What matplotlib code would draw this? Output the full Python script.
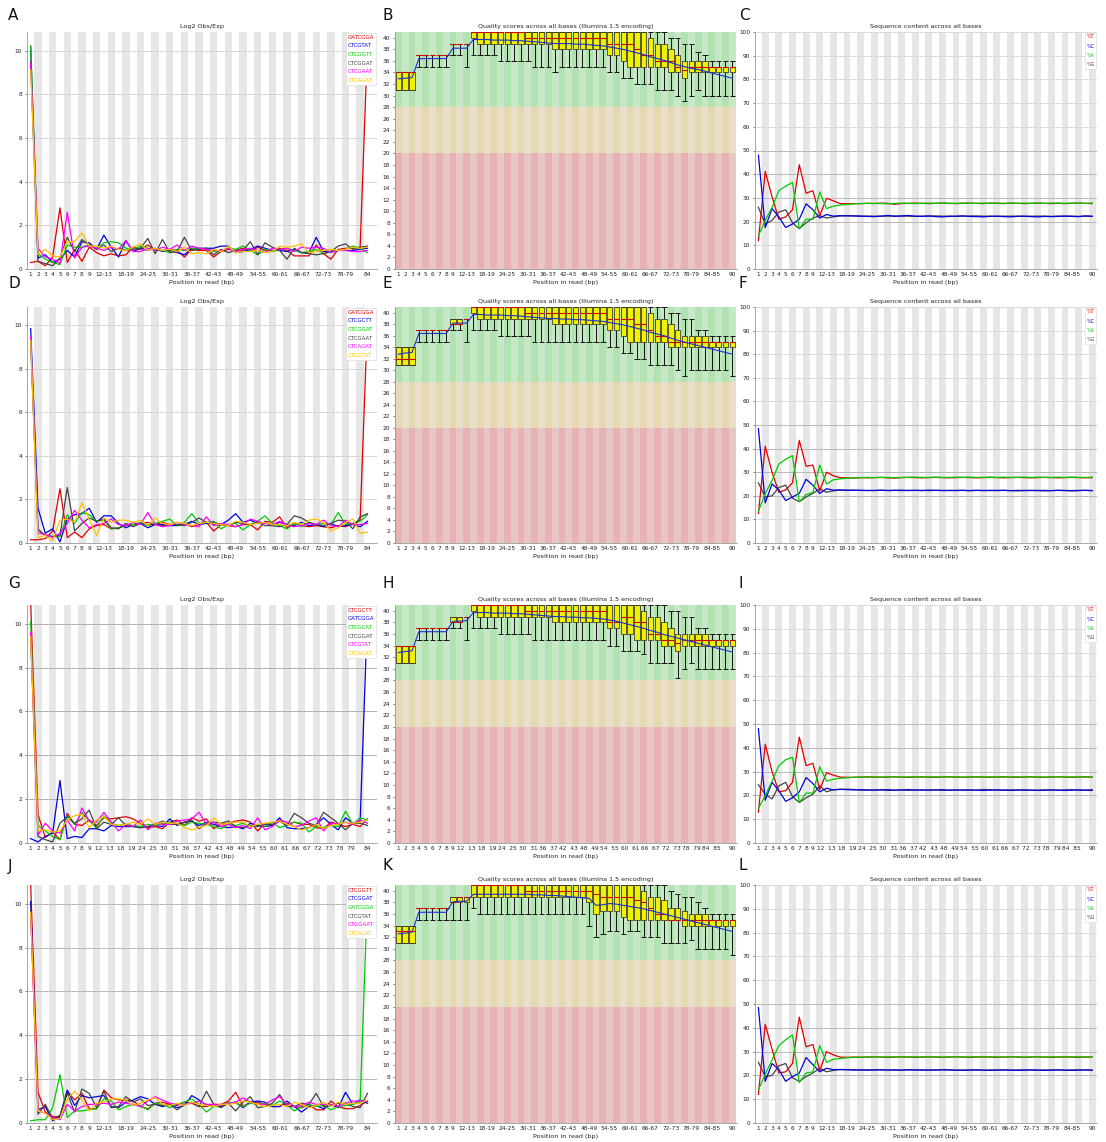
import numpy as np
import matplotlib.pyplot as plt

plt.rcParams['font.family'] = ['DejaVu Sans']

W, H = 1106, 1142

# ---------------------------------------------------------------- categories
KMER_POS = [str(i) for i in range(1, 10)] + [f'{i}-{i + 1}' for i in range(10, 84, 2)] + ['84']
KMER_TICKS = ['1', '2', '3', '4', '5', '6', '7', '8', '9', '12-13', '18-19', '24-25', '30-31',
              '36-37', '42-43', '48-49', '54-55', '60-61', '66-67', '72-73', '78-79', '84']
QUAL_POS = [str(i) for i in range(1, 10)] + [f'{i}-{i + 1}' for i in range(10, 90, 2)] + ['90']
QUAL_TICKS = ['1', '2', '3', '4', '5', '6', '7', '8', '9', '12-13', '18-19', '24-25', '30-31',
              '36-37', '42-43', '48-49', '54-55', '60-61', '66-67', '72-73', '78-79', '84-85', '90']

KMER_COLORS = ['#e00000', '#0000e0', '#00cc00', '#444444', '#ff00ff', '#ffc000']

# ---------------------------------------------------------------- kmer data (Log2 Obs/Exp)
a_names = ['GATCGGA', 'CTCGTAT', 'CTCGGTT', 'CTCGGAT', 'CTCGAAT', 'CTCAGAT']
a_red = [0.3, 0.35, 0.15, 0.55, 2.8, 0.3, 0.9, 0.35, 1.0, 0.75, 0.6, 0.7, 0.6, 0.65, 1.0, 0.9, 1.1, 0.85,
         0.85, 0.9, 0.85, 0.55, 0.9, 0.85, 0.85, 0.55, 0.8, 0.9, 0.85, 0.95, 0.8, 1.0, 0.85, 0.8, 0.95,
         0.85, 0.6, 0.6, 0.6, 1.1, 0.7, 0.45, 0.9, 0.95, 0.95, 1.0, 10.3]
a_blue = [10.2, 0.5, 0.65, 0.3, 0.45, 0.85, 0.55, 1.25, 1.2, 0.9, 1.55, 1.0, 0.55, 1.3, 0.8, 0.95, 0.85,
          0.95, 0.8, 0.85, 0.75, 0.65, 0.95, 0.95, 0.95, 0.95, 1.05, 1.05, 0.75, 0.8, 0.9, 1.05, 0.95,
          0.85, 0.85, 0.8, 0.9, 0.75, 0.75, 1.45, 0.8, 0.8, 0.85, 0.85, 0.85, 0.9, 0.95]
a_green = [10.2, 0.7, 0.45, 0.3, 0.2, 1.1, 1.0, 1.0, 1.1, 0.95, 1.2, 1.25, 1.2, 0.95, 0.9, 1.05, 0.95, 0.9,
           0.85, 0.75, 0.9, 0.85, 0.95, 0.9, 0.95, 0.8, 0.85, 0.95, 0.9, 1.05, 0.85, 0.65, 0.9, 0.8, 0.9,
           0.95, 0.85, 0.75, 0.8, 0.9, 0.7, 0.8, 0.85, 0.9, 1.05, 0.95, 0.75]
a_gray = [9.5, 0.35, 0.25, 0.15, 0.5, 1.45, 0.8, 1.35, 1.1, 0.9, 1.1, 0.8, 0.95, 0.85, 0.9, 0.95, 1.4, 0.7,
          1.35, 0.75, 0.8, 1.45, 0.85, 0.9, 0.95, 0.65, 0.9, 0.75, 0.85, 0.85, 1.25, 0.65, 1.2, 1.0, 0.85,
          0.45, 0.95, 0.75, 0.7, 0.65, 0.7, 0.8, 1.05, 1.15, 0.9, 1.0, 1.05]
a_magenta = [9.4, 0.95, 0.55, 0.45, 0.25, 2.6, 0.5, 1.0, 1.05, 0.95, 0.85, 1.0, 0.9, 1.3, 0.8, 0.8, 0.95,
             0.85, 1.0, 0.9, 1.1, 0.85, 1.05, 0.95, 0.9, 0.85, 0.85, 0.95, 0.8, 0.9, 0.95, 0.85, 0.75,
             0.95, 0.9, 0.95, 0.8, 1.0, 0.95, 1.0, 0.95, 0.75, 0.85, 0.85, 0.8, 0.8, 0.85]
a_yellow = [9.1, 0.65, 0.9, 0.6, 0.55, 1.25, 1.25, 1.65, 1.05, 1.05, 0.95, 1.05, 0.9, 0.85, 1.0, 1.15, 0.85,
            0.95, 0.85, 0.9, 0.8, 1.0, 0.7, 0.75, 0.7, 0.9, 0.8, 1.05, 0.75, 0.8, 0.8, 0.85, 0.75, 0.8,
            1.05, 1.0, 1.05, 1.15, 0.75, 0.8, 0.85, 0.9, 0.85, 0.9, 1.0, 0.95, 1.0]

d_names = ['GATCGGA', 'CTCGCTT', 'CTCGGAT', 'CTCGAAT', 'CTCAGAT', 'CTCGTAT']
d_red = [0.15, 0.15, 0.2, 0.55, 2.5, 0.25, 0.5, 0.25, 0.65, 0.8, 0.85, 0.65, 0.7, 0.8, 0.85, 0.9, 0.95,
         0.85, 0.95, 0.85, 0.8, 0.9, 0.75, 0.85, 0.95, 0.55, 0.85, 0.8, 0.75, 0.85, 0.85, 0.6, 1.0, 0.95,
         1.2, 0.7, 0.9, 0.8, 0.75, 0.8, 0.75, 0.7, 0.8, 0.75, 0.9, 1.05, 10.3]
d_blue = [9.85, 1.6, 0.45, 0.65, 0.05, 1.1, 1.3, 1.35, 1.6, 0.95, 1.25, 1.25, 0.9, 0.7, 0.85, 0.9, 0.7,
          0.85, 0.85, 0.8, 0.8, 0.85, 1.0, 0.85, 0.9, 0.95, 0.85, 1.05, 1.35, 0.95, 1.05, 0.9, 0.95, 0.8,
          0.95, 0.85, 0.8, 0.95, 0.8, 0.85, 0.75, 0.9, 0.75, 0.8, 0.85, 0.75, 1.0]
d_green = [9.5, 0.65, 0.35, 0.3, 0.3, 1.3, 0.9, 1.4, 1.3, 1.0, 1.05, 0.65, 0.7, 0.85, 0.85, 0.95, 0.8, 0.9,
           1.0, 1.1, 0.8, 0.95, 1.35, 0.9, 0.95, 1.0, 0.65, 0.85, 0.9, 0.6, 0.85, 1.0, 1.25, 0.9, 0.8,
           0.65, 0.9, 0.75, 0.95, 0.85, 0.9, 0.85, 1.4, 0.85, 0.9, 1.0, 1.3]
d_gray = [9.3, 0.6, 0.35, 0.3, 0.35, 2.55, 0.55, 0.9, 1.15, 1.0, 1.1, 0.7, 0.65, 0.9, 0.75, 0.9, 0.85,
          0.85, 0.8, 0.85, 0.85, 0.8, 0.95, 1.15, 0.95, 0.85, 0.85, 0.8, 0.95, 0.9, 0.85, 0.95, 0.8, 0.8,
          0.75, 0.85, 1.25, 1.15, 0.95, 0.85, 0.8, 0.9, 1.05, 1.0, 0.65, 1.2, 1.35]
d_magenta = [9.5, 0.45, 0.4, 0.25, 0.45, 0.9, 1.5, 1.05, 0.7, 0.85, 0.9, 1.1, 0.85, 0.8, 0.95, 0.85, 1.4,
             0.85, 0.75, 0.8, 0.95, 0.85, 0.8, 0.75, 1.2, 0.8, 0.9, 0.85, 0.75, 0.85, 1.1, 1.0, 0.9, 0.85,
             1.0, 0.8, 0.75, 0.8, 0.9, 0.85, 1.05, 0.8, 0.75, 1.05, 0.85, 0.85, 0.9]
d_yellow = [9.3, 0.25, 0.35, 0.1, 1.05, 1.1, 0.95, 1.85, 1.1, 0.35, 1.15, 0.95, 1.05, 1.05, 0.95, 1.05, 0.8,
            1.15, 0.9, 0.85, 0.95, 0.9, 0.8, 0.9, 0.95, 0.9, 0.85, 0.8, 1.0, 0.95, 0.85, 0.9, 0.95, 0.85,
            0.85, 0.8, 0.95, 0.85, 1.05, 1.1, 0.95, 0.55, 0.7, 0.95, 1.1, 0.45, 0.5]

g_names = ['CTCGCTT', 'GATCGGA', 'CTCGCAT', 'CTCGGAT', 'CTCGTAT', 'CTCAGAT']
g_red = [11.0, 1.3, 0.25, 0.5, 0.15, 1.35, 0.85, 0.8, 1.05, 0.8, 1.15, 1.1, 1.15, 1.2, 1.1, 0.9, 0.7, 0.75,
         0.65, 0.95, 1.05, 0.8, 1.15, 1.0, 1.1, 0.65, 0.85, 0.9, 1.0, 1.05, 0.95, 0.55, 0.9, 0.8, 1.0,
         0.85, 0.95, 0.85, 0.85, 0.7, 0.65, 0.95, 0.85, 0.75, 0.85, 0.75, 1.1]
g_blue = [0.2, 0.05, 0.3, 0.45, 2.85, 0.2, 0.3, 0.25, 0.65, 0.65, 0.55, 0.8, 0.75, 0.75, 0.75, 0.7, 0.75,
          0.8, 0.75, 1.1, 0.8, 0.95, 1.0, 0.8, 0.95, 0.85, 0.75, 0.7, 0.75, 0.65, 0.9, 0.8, 0.75, 0.8,
          1.15, 0.7, 0.65, 0.65, 0.7, 0.85, 1.15, 0.85, 0.6, 1.15, 0.9, 1.0, 10.5]
g_green = [10.1, 0.8, 0.55, 0.3, 0.15, 1.25, 0.85, 1.4, 1.0, 0.7, 1.25, 0.9, 0.8, 0.85, 0.8, 0.75, 0.85,
           0.8, 0.9, 0.95, 0.9, 0.8, 0.95, 0.9, 0.85, 0.75, 0.65, 0.85, 0.8, 0.9, 0.75, 0.85, 0.75, 0.95,
           0.7, 0.8, 0.95, 0.9, 0.5, 0.75, 0.7, 0.8, 0.75, 1.45, 0.85, 1.15, 1.05]
g_gray = [9.4, 0.3, 0.15, 0.05, 0.9, 1.2, 0.9, 1.1, 1.5, 0.65, 0.95, 0.85, 1.15, 0.8, 0.75, 0.7, 0.75,
          0.85, 1.0, 0.85, 0.85, 0.95, 1.05, 0.65, 0.9, 0.95, 0.9, 1.0, 0.75, 0.7, 0.8, 0.75, 0.85, 0.85,
          1.0, 0.8, 1.35, 1.15, 0.9, 0.8, 1.4, 1.15, 0.9, 0.6, 0.9, 0.9, 0.8]
g_magenta = [9.6, 0.35, 0.9, 0.55, 0.45, 1.05, 0.55, 1.6, 1.0, 0.95, 1.4, 0.95, 0.55, 0.85, 0.75, 1.05,
             0.6, 0.9, 0.85, 0.85, 1.0, 1.05, 1.1, 1.4, 0.85, 0.95, 0.75, 0.85, 0.7, 0.8, 0.65, 1.15, 0.6,
             0.75, 1.05, 0.95, 0.75, 0.8, 1.0, 1.15, 0.55, 0.9, 0.85, 0.95, 0.85, 1.05, 0.9]
g_yellow = [9.4, 0.55, 0.6, 0.5, 0.55, 1.05, 1.25, 1.3, 0.7, 1.05, 1.2, 0.85, 0.8, 0.85, 0.95, 0.85, 1.1,
            0.85, 0.95, 0.9, 0.9, 0.7, 0.6, 0.7, 0.8, 1.15, 0.85, 0.9, 0.95, 0.95, 0.75, 0.85, 0.9, 0.95,
            1.0, 0.85, 0.75, 0.6, 0.7, 0.85, 0.65, 0.8, 0.85, 0.95, 0.9, 0.95, 1.05]

j_names = ['CTCGGTT', 'CTCGGAT', 'GATCGGA', 'CTCGTAT', 'CTGGAAT', 'CTCACAT']
j_red = [10.9, 1.4, 0.5, 0.3, 0.25, 1.45, 1.05, 1.35, 0.65, 0.65, 1.5, 1.15, 1.05, 1.05, 1.0, 0.75, 0.65,
         0.9, 0.95, 0.85, 0.8, 0.95, 0.9, 0.75, 0.75, 0.85, 0.85, 1.0, 1.4, 0.75, 0.95, 0.95, 0.85, 0.75,
         0.75, 0.9, 0.75, 0.7, 0.85, 0.6, 0.6, 1.0, 0.75, 0.65, 0.65, 0.8, 1.0]
j_blue = [10.1, 0.6, 0.75, 0.1, 0.3, 1.5, 0.8, 1.25, 1.15, 1.2, 1.25, 0.75, 0.7, 0.95, 1.05, 1.2, 1.1,
          0.85, 0.75, 0.85, 0.7, 0.8, 1.25, 1.05, 0.8, 0.85, 0.75, 0.9, 0.95, 0.7, 0.95, 1.0, 0.95, 0.75,
          0.75, 1.0, 0.75, 0.5, 0.75, 0.8, 0.65, 0.85, 0.7, 1.4, 0.85, 1.05, 0.9]
j_green = [0.1, 0.15, 0.15, 0.7, 2.2, 0.25, 0.55, 0.55, 0.6, 0.65, 1.1, 1.0, 0.6, 0.75, 0.85, 0.8, 0.6,
           0.9, 0.85, 0.7, 0.85, 0.95, 1.1, 0.85, 0.5, 0.75, 0.8, 0.95, 0.9, 0.75, 0.9, 0.85, 0.9, 0.8,
           1.0, 0.85, 0.55, 0.75, 0.85, 0.75, 0.8, 0.6, 0.75, 0.8, 0.85, 0.95, 10.4]
j_gray = [9.7, 0.4, 0.85, 0.2, 0.35, 1.35, 0.5, 1.55, 1.35, 0.7, 1.45, 0.7, 0.75, 1.2, 0.95, 1.1, 0.8,
          0.85, 0.8, 0.85, 0.6, 0.85, 0.95, 0.75, 1.45, 0.85, 0.7, 0.9, 0.55, 0.95, 1.2, 0.7, 0.75, 0.9,
          1.3, 0.75, 0.75, 0.9, 0.85, 1.35, 0.75, 0.8, 0.9, 0.9, 0.75, 0.7, 1.35]
j_magenta = [9.6, 0.55, 0.45, 0.25, 0.15, 0.85, 0.55, 0.75, 0.85, 0.85, 0.9, 0.85, 0.95, 0.9, 0.85, 0.75,
             1.0, 1.2, 1.05, 0.9, 0.85, 0.85, 0.9, 1.0, 0.85, 0.85, 0.8, 0.9, 0.95, 1.15, 0.95, 0.85,
             0.85, 1.05, 1.2, 0.85, 0.75, 0.8, 0.95, 0.85, 0.85, 0.85, 0.75, 0.9, 1.0, 1.0, 1.0]
j_yellow = [9.6, 0.55, 0.45, 0.15, 0.2, 1.1, 1.45, 1.05, 0.55, 0.9, 0.95, 1.1, 1.1, 1.05, 0.8, 0.9, 1.05,
            1.15, 0.85, 0.8, 0.9, 0.8, 0.95, 0.85, 0.8, 0.75, 0.85, 0.85, 0.9, 1.0, 0.95, 0.85, 0.75, 0.8,
            0.85, 0.75, 0.95, 0.85, 0.7, 0.8, 0.95, 0.75, 0.95, 0.85, 0.9, 0.9, 1.05]

# ---------------------------------------------------------------- quality data
b_lo = [31, 31, 31, 35, 35, 35, 35, 35, 37, 37, 35, 37, 37, 37, 37, 36, 36, 36, 36, 36, 35, 35, 35, 34, 35,
        35, 35, 35, 35, 35, 35, 34, 34, 33, 33, 32, 32, 32, 31, 31, 31, 30, 29, 30, 31, 30, 30, 30, 30, 30]
b_q1 = [31, 31, 31, 37, 37, 37, 37, 37, 39, 39, 39, 40, 39, 39, 39, 39, 39, 39, 39, 39, 39, 39, 39, 38, 38,
        38, 38, 38, 38, 38, 38, 37, 37, 36, 35, 35, 35, 35, 35, 35, 34, 34, 33, 34, 34, 34, 34, 34, 34, 34]
b_med = [34, 34, 34, 37, 37, 37, 37, 37, 39, 39, 39, 41, 41, 41, 41, 41, 41, 41, 41, 40, 40, 40, 40, 40, 40,
         40, 40, 40, 40, 40, 40, 39, 39, 39, 39, 38, 37, 37, 36, 36, 36, 35, 34.5, 35, 35, 35, 35, 35, 35, 35]
b_q3 = [34, 34, 34, 37, 37, 37, 37, 37, 39, 39, 39, 41, 41, 41, 41, 41, 41, 41, 41, 41, 41, 41, 41, 41, 41,
        41, 41, 41, 41, 41, 41, 41, 41, 41, 41, 41, 41, 40, 39, 39, 38, 37, 36, 36, 36, 36, 35, 35, 35, 35]
b_hi = [34, 34, 34, 37, 37, 37, 37, 37, 39, 39, 39, 41, 41, 41, 41, 41, 41, 41, 41, 41, 41, 41, 41, 41, 41,
        41, 41, 41, 41, 41, 41, 41, 41, 41, 41, 41, 41, 41, 41, 41, 40, 40, 39, 39, 37.5, 37, 36, 36, 36, 36]
b_mean = [32.9, 33.0, 33.1, 36.4, 36.4, 36.4, 36.4, 36.4, 38.2, 38.2, 38.2, 39.7, 39.7, 39.7, 39.6, 39.6,
          39.6, 39.5, 39.5, 39.4, 39.3, 39.2, 39.1, 39.0, 39.0, 39.0, 38.9, 38.9, 38.8, 38.7, 38.6, 38.4,
          38.2, 38.0, 37.7, 37.4, 37.1, 36.7, 36.4, 36.1, 35.7, 35.3, 35.0, 34.7, 34.5, 34.2, 33.9, 33.6,
          33.3, 33.0]

e_lo = [31, 31, 31, 35, 35, 35, 35, 35, 37, 37, 35, 37, 37, 37, 37, 36, 36, 36, 36, 36, 35, 35, 35, 35, 35,
        35, 35, 35, 35, 35, 35, 34, 34, 33, 33, 32, 32, 31, 31, 31, 31, 30, 29, 30, 30, 30, 30, 30, 30, 29]
e_q1 = [31, 31, 31, 37, 37, 37, 37, 37, 38, 38, 39, 40, 39, 39, 39, 39, 39, 39, 39, 39, 39, 39, 39, 38, 38,
        38, 38, 38, 38, 38, 38, 37, 37, 36, 35, 35, 35, 35, 35, 35, 34, 34, 34, 34, 34, 34, 34, 34, 34, 34]
e_med = [32, 32, 32, 37, 37, 37, 37, 37, 38, 38, 39, 41, 41, 41, 41, 41, 41, 41, 41, 40, 40, 40, 40, 40, 40,
         40, 40, 40, 40, 40, 40, 39, 39, 39, 39, 38, 38, 37, 36, 36, 35, 35, 35, 35, 35, 35, 35, 35, 35, 35]
e_q3 = [34, 34, 34, 37, 37, 37, 37, 37, 39, 39, 39, 41, 41, 41, 41, 41, 41, 41, 41, 41, 41, 41, 41, 41, 41,
        41, 41, 41, 41, 41, 41, 41, 41, 41, 41, 41, 41, 40, 39, 39, 38, 37, 36, 36, 36, 36, 35, 35, 35, 35]
e_hi = [34, 34, 34, 37, 37, 37, 37, 37, 39, 39, 39, 41, 41, 41, 41, 41, 41, 41, 41, 41, 41, 41, 41, 41, 41,
        41, 41, 41, 41, 41, 41, 41, 41, 41, 41, 41, 41, 41, 41, 41, 40, 40, 39, 39, 37, 37, 36, 36, 36, 36]
e_mean = [32.8, 33.0, 33.1, 36.4, 36.4, 36.4, 36.4, 36.4, 38.2, 38.2, 38.2, 39.7, 39.7, 39.6, 39.6, 39.6,
          39.5, 39.5, 39.4, 39.3, 39.2, 39.1, 39.0, 39.0, 38.9, 38.9, 38.8, 38.8, 38.7, 38.6, 38.5, 38.3,
          38.1, 37.9, 37.6, 37.3, 37.0, 36.6, 36.3, 36.0, 35.6, 35.2, 34.9, 34.6, 34.3, 34.0, 33.7, 33.4,
          33.1, 32.8]

h_lo = [31, 31, 31, 35, 35, 35, 35, 35, 37, 37, 35, 37, 37, 37, 37, 36, 36, 36, 36, 36, 35, 35, 35, 35, 35,
        35, 35, 35, 35, 35, 35, 34, 34, 33, 33, 33, 32.5, 31, 31, 31, 31, 28.5, 30, 31, 30, 30, 30, 30, 30, 30]
h_q1 = [31, 31, 31, 37, 37, 37, 37, 37, 38, 38, 39, 40, 39, 39, 39, 39, 39, 39, 39, 39, 39, 39, 39, 38, 38,
        38, 38, 38, 38, 38, 38, 37, 37, 36, 36, 35, 35, 35, 35, 34, 34, 33, 34, 34, 34, 34, 34, 34, 34, 34]
h_med = [34, 34, 34, 37, 37, 37, 37, 37, 38, 38, 39, 41, 41, 41, 41, 41, 41, 41, 41, 40, 40, 40, 40, 40, 40,
         40, 40, 40, 40, 40, 40, 38, 38, 39, 39, 38, 38, 36, 36, 35, 35, 34.5, 35, 35, 35, 35, 35, 35, 35, 35]
h_q3 = [34, 34, 34, 37, 37, 37, 37, 37, 39, 39, 39, 41, 41, 41, 41, 41, 41, 41, 41, 41, 41, 41, 41, 41, 41,
        41, 41, 41, 41, 41, 41, 41, 41, 41, 41, 41, 40, 39, 39, 38, 37, 36, 36, 36, 36, 36, 35, 35, 35, 35]
h_hi = [34, 34, 34, 37, 37, 37, 37, 37, 39, 39, 39, 41, 41, 41, 41, 41, 41, 41, 41, 41, 41, 41, 41, 41, 41,
        41, 41, 41, 41, 41, 41, 41, 41, 41, 41, 41, 41, 41, 41, 41, 40, 40, 39, 39, 37, 37, 36, 36, 36, 36]
h_mean = [32.8, 33.0, 33.1, 36.4, 36.4, 36.4, 36.4, 36.4, 38.2, 38.2, 38.3, 39.7, 39.7, 39.7, 39.6, 39.6,
          39.6, 39.5, 39.5, 39.4, 39.3, 39.2, 39.1, 39.0, 39.0, 38.9, 38.9, 38.8, 38.8, 38.7, 38.6, 38.4,
          38.2, 37.9, 37.6, 37.3, 37.0, 36.6, 36.3, 35.9, 35.6, 35.3, 35.0, 34.7, 34.4, 34.1, 33.8, 33.5,
          33.2, 32.9]

k_lo = [31, 31, 31, 35, 35, 35, 35, 35, 35, 35, 35, 37, 36, 36, 36, 36, 36, 36, 36, 36, 36, 36, 36, 36, 36,
        36, 36, 36, 34, 32, 32.5, 33, 33, 32.5, 33, 33, 32, 32, 32, 31, 31, 31, 31, 31.5, 30, 30, 30, 30, 30, 29]
k_q1 = [31, 31, 31, 37, 37, 37, 37, 37, 38, 38, 38, 39, 39, 39, 39, 39, 39, 39, 39, 39, 39, 39, 39, 39, 39,
        39, 39, 39, 38, 36, 36.5, 36.5, 36.5, 35.5, 35, 35, 35, 35, 35, 35, 35, 35, 34, 34, 34, 34, 34, 34, 34, 34]
k_med = [33, 33, 33, 37, 37, 37, 37, 37, 38, 39, 39, 41, 41, 41, 41, 41, 41, 41, 41, 40, 40, 40, 40, 40, 40,
         40, 40, 40, 40, 39.5, 39, 39, 39, 39, 39, 38.5, 38, 37, 36, 36, 35, 35, 35, 35, 35, 35, 35, 35, 35, 35]
k_q3 = [34, 34, 34, 37, 37, 37, 37, 37, 39, 39, 39, 41, 41, 41, 41, 41, 41, 41, 41, 41, 41, 41, 41, 41, 41,
        41, 41, 41, 41, 41, 41, 41, 41, 41, 41, 41, 40, 39, 39, 38.5, 37, 37, 36.5, 36, 36, 36, 35, 35, 35, 35]
k_hi = [34, 34, 34, 37, 37, 37, 37, 37, 39, 39, 39, 41, 41, 41, 41, 41, 41, 41, 41, 41, 41, 41, 41, 41, 41,
        41, 41, 41, 41, 41, 41, 41, 41, 41, 41, 41, 41, 41, 41, 41, 40, 39.5, 39, 39, 38, 37, 36, 36, 36, 36]
k_mean = [32.6, 32.7, 32.9, 36.3, 36.3, 36.3, 36.3, 36.3, 38.1, 38.2, 38.2, 39.4, 39.4, 39.4, 39.4, 39.4,
          39.4, 39.4, 39.4, 39.4, 39.3, 39.3, 39.2, 39.2, 39.1, 39.0, 38.9, 38.8, 38.7, 37.5, 37.6, 37.8,
          37.7, 37.5, 37.3, 37.1, 36.9, 36.6, 36.3, 36.0, 35.7, 35.4, 35.1, 34.8, 34.5, 34.2, 33.9, 33.6,
          33.3, 33.0]

# ---------------------------------------------------------------- sequence content data (%)
c_t = [12.0, 41.2, 30.5, 21.0, 22.0, 25.0, 44.0, 32.0, 33.0, 22.5, 29.8, 28.8, 27.6, 27.5, 27.6, 27.6, 27.7,
       27.6, 27.8, 27.7, 27.3, 27.6, 27.7, 27.8, 27.7, 27.6, 27.7, 27.8, 27.7, 27.6, 27.7, 27.8, 27.7, 27.6,
       27.8, 27.7, 27.6, 27.8, 27.7, 27.6, 27.7, 27.8, 27.7, 27.6, 27.7, 27.6, 27.7, 27.8, 27.7, 27.6]
c_c = [48.0, 17.5, 25.5, 22.0, 17.5, 19.0, 21.0, 27.5, 25.0, 21.5, 23.0, 22.3, 22.5, 22.4, 22.4, 22.3, 22.2,
       22.1, 22.3, 22.6, 22.2, 22.4, 22.6, 22.3, 22.2, 22.4, 22.1, 22.0, 22.2, 22.3, 22.4, 22.2, 22.1, 22.0,
       22.2, 22.3, 22.1, 22.0, 22.2, 22.3, 22.1, 22.0, 22.2, 22.1, 22.2, 22.3, 22.2, 22.1, 22.4, 22.2]
c_a = [14.0, 20.5, 26.0, 33.0, 35.0, 36.5, 17.0, 21.0, 21.0, 32.5, 25.5, 26.5, 27.0, 27.2, 27.5, 27.6, 27.7,
       27.7, 27.6, 27.5, 27.7, 27.8, 27.7, 27.6, 27.7, 27.8, 27.7, 27.8, 27.7, 27.7, 27.8, 27.7, 27.7, 27.8,
       27.7, 27.8, 27.7, 27.8, 27.7, 27.8, 27.7, 27.8, 27.7, 27.8, 27.8, 27.7, 27.8, 27.8, 27.7, 27.8]
c_g = [26.0, 19.0, 20.5, 24.0, 25.0, 19.5, 17.0, 19.5, 21.5, 22.5, 21.5, 22.0, 22.4, 22.5, 22.4, 22.3, 22.3,
       22.3, 22.3, 22.3, 22.4, 22.3, 22.3, 22.2, 22.3, 22.3, 22.4, 22.3, 22.3, 22.2, 22.3, 22.3, 22.4, 22.3,
       22.3, 22.2, 22.3, 22.3, 22.3, 22.2, 22.3, 22.3, 22.3, 22.2, 22.3, 22.3, 22.3, 22.2, 22.3, 22.3]

f_t = [12.5, 41.0, 30.0, 21.5, 22.5, 25.5, 43.5, 32.5, 33.0, 22.0, 30.0, 28.5, 27.7, 27.6, 27.5, 27.7, 27.6,
       27.7, 27.8, 27.6, 27.5, 27.7, 27.8, 27.7, 27.6, 27.7, 27.8, 27.7, 27.6, 27.7, 27.8, 27.7, 27.6, 27.7,
       27.8, 27.7, 27.6, 27.7, 27.8, 27.7, 27.6, 27.7, 27.8, 27.7, 27.6, 27.7, 27.8, 27.7, 27.6, 27.7]
f_c = [48.5, 17.0, 25.0, 22.5, 18.0, 19.5, 21.0, 27.0, 24.5, 21.0, 23.0, 22.4, 22.5, 22.3, 22.4, 22.3, 22.2,
       22.3, 22.4, 22.2, 22.3, 22.4, 22.2, 22.3, 22.2, 22.4, 22.3, 22.2, 22.3, 22.2, 22.3, 22.2, 22.3, 22.2,
       22.3, 22.2, 22.3, 22.2, 22.1, 22.2, 22.3, 22.2, 22.1, 22.2, 22.3, 22.2, 22.1, 22.2, 22.3, 22.2]
f_a = [13.5, 21.0, 26.5, 33.5, 35.5, 37.0, 17.5, 20.5, 21.5, 33.0, 25.0, 26.8, 27.2, 27.4, 27.6, 27.7, 27.8,
       27.7, 27.8, 27.8, 27.7, 27.8, 27.8, 27.9, 27.8, 27.8, 27.9, 27.8, 27.8, 27.9, 27.8, 27.9, 27.8, 27.8,
       27.9, 27.8, 27.9, 27.8, 27.8, 27.9, 27.8, 27.9, 27.8, 27.8, 27.9, 27.8, 27.9, 27.8, 27.8, 27.9]
f_g = [25.5, 19.5, 20.0, 23.5, 24.5, 19.0, 17.5, 19.5, 21.0, 23.0, 21.5, 22.1, 22.4, 22.4, 22.3, 22.3, 22.3,
       22.2, 22.3, 22.3, 22.3, 22.2, 22.3, 22.3, 22.3, 22.2, 22.3, 22.3, 22.2, 22.3, 22.3, 22.2, 22.3, 22.3,
       22.2, 22.3, 22.3, 22.2, 22.3, 22.3, 22.2, 22.3, 22.3, 22.2, 22.3, 22.3, 22.2, 22.3, 22.3, 22.2]

i_t = [13.0, 41.5, 30.0, 21.5, 22.0, 25.5, 44.5, 32.5, 33.5, 22.5, 29.5, 28.5, 27.7, 27.6, 27.6, 27.7, 27.8,
       27.7, 27.6, 27.7, 27.8, 27.7, 27.6, 27.7, 27.8, 27.7, 27.6, 27.7, 27.8, 27.7, 27.6, 27.7, 27.8, 27.7,
       27.6, 27.7, 27.8, 27.7, 27.6, 27.7, 27.8, 27.7, 27.6, 27.7, 27.8, 27.7, 27.6, 27.7, 27.8, 27.7]
i_c = [48.0, 18.0, 25.5, 22.0, 17.5, 19.0, 21.5, 27.5, 25.0, 21.5, 23.0, 22.3, 22.6, 22.4, 22.3, 22.4, 22.3,
       22.2, 22.3, 22.4, 22.2, 22.3, 22.4, 22.2, 22.3, 22.2, 22.3, 22.4, 22.2, 22.3, 22.2, 22.3, 22.2, 22.1,
       22.2, 22.3, 22.2, 22.1, 22.2, 22.3, 22.2, 22.1, 22.2, 22.3, 22.2, 22.1, 22.2, 22.3, 22.2, 22.1]
i_a = [14.5, 20.0, 26.0, 32.5, 35.0, 36.0, 17.0, 21.0, 21.0, 32.0, 26.0, 26.8, 27.2, 27.4, 27.6, 27.7, 27.7,
       27.8, 27.7, 27.8, 27.8, 27.7, 27.8, 27.8, 27.7, 27.8, 27.8, 27.7, 27.8, 27.8, 27.7, 27.8, 27.8, 27.7,
       27.8, 27.8, 27.7, 27.8, 27.8, 27.7, 27.8, 27.8, 27.7, 27.8, 27.8, 27.7, 27.8, 27.8, 27.7, 27.8]
i_g = [24.5, 20.5, 18.5, 24.0, 25.5, 19.5, 17.0, 19.0, 20.5, 24.0, 21.5, 22.4, 22.5, 22.6, 22.5, 22.2, 22.2,
       22.3, 22.4, 22.1, 22.2, 22.3, 22.1, 22.3, 22.2, 22.3, 22.3, 22.1, 22.2, 22.2, 22.3, 22.2, 22.2, 22.5,
       22.4, 22.2, 22.3, 22.3, 22.3, 22.2, 22.2, 22.2, 22.3, 22.2, 22.2, 22.3, 22.4, 22.2, 22.2, 22.4]

l_t = [12.0, 41.5, 31.0, 21.0, 21.5, 25.0, 44.5, 32.0, 33.0, 22.0, 30.0, 28.6, 27.7, 27.6, 27.7, 27.6, 27.7,
       27.8, 27.7, 27.6, 27.7, 27.8, 27.7, 27.6, 27.7, 27.8, 27.7, 27.6, 27.7, 27.8, 27.7, 27.6, 27.7, 27.8,
       27.7, 27.6, 27.7, 27.8, 27.7, 27.6, 27.7, 27.8, 27.7, 27.6, 27.7, 27.8, 27.7, 27.6, 27.7, 27.8]
l_c = [48.5, 17.5, 25.0, 22.5, 17.5, 19.5, 21.0, 27.5, 24.5, 21.5, 23.0, 22.4, 22.5, 22.4, 22.3, 22.3, 22.2,
       22.3, 22.4, 22.2, 22.3, 22.2, 22.4, 22.3, 22.2, 22.3, 22.2, 22.4, 22.3, 22.2, 22.1, 22.2, 22.3, 22.2,
       22.1, 22.2, 22.3, 22.2, 22.1, 22.2, 22.3, 22.2, 22.1, 22.2, 22.3, 22.2, 22.1, 22.2, 22.3, 22.2]
l_a = [14.0, 20.5, 26.5, 32.5, 35.0, 37.0, 17.0, 21.0, 21.5, 32.5, 25.5, 26.8, 27.1, 27.4, 27.6, 27.7, 27.7,
       27.8, 27.7, 27.8, 27.8, 27.7, 27.8, 27.8, 27.7, 27.8, 27.8, 27.7, 27.8, 27.8, 27.7, 27.8, 27.8, 27.7,
       27.8, 27.8, 27.7, 27.8, 27.8, 27.7, 27.8, 27.8, 27.7, 27.8, 27.8, 27.7, 27.8, 27.8, 27.7, 27.8]
l_g = [25.5, 19.5, 20.0, 24.0, 25.0, 19.0, 17.5, 19.5, 21.0, 23.0, 21.5, 22.1, 22.4, 22.4, 22.3, 22.3, 22.3,
       22.3, 22.3, 22.3, 22.3, 22.2, 22.3, 22.3, 22.3, 22.2, 22.3, 22.3, 22.3, 22.2, 22.3, 22.3, 22.3, 22.2,
       22.3, 22.3, 22.3, 22.2, 22.3, 22.3, 22.3, 22.2, 22.3, 22.3, 22.3, 22.2, 22.3, 22.3, 22.3, 22.2]

# ---------------------------------------------------------------- layout (pixels)
COLS = [(27, 377), (395, 737), (755, 1097)]
ROWS = [(32, 269), (307, 543), (605, 843), (885, 1123)]
LETTER_X = [8, 383, 739]
LETTER_Y = [15, 284, 583, 866]

TICK_FS = 4.2
STRIPE = '#e6e6e6'


def axes_at(fig, col, row):
    l, r = COLS[col]
    t, b = ROWS[row]
    return fig.add_axes([l / W, 1 - b / H, (r - l) / W, (b - t) / H])


def style_axes(ax, categories, tick_labels, title, sep):
    idx = [categories.index(lbl) for lbl in tick_labels]
    ax.set_xticks(idx)
    ax.set_xticklabels([lbl.replace('-', sep) for lbl in tick_labels], fontsize=TICK_FS, color='#222222')
    ax.tick_params(axis='x', length=0, pad=2.5)
    ax.tick_params(axis='y', length=1.5, width=0.4, pad=2, labelsize=TICK_FS, colors='#222222')
    for s in ['top', 'right']:
        ax.spines[s].set_visible(False)
    for s in ['left', 'bottom']:
        ax.spines[s].set_color('#999999')
        ax.spines[s].set_linewidth(0.6)
    ax.set_title(title, fontsize=4.6, pad=3, color='#222222')
    ax.set_xlabel('Position in read (bp)', fontsize=4.6, labelpad=2, color='#222222')


def kmer_panel(ax, series, names, title, sep, grid_col):
    x = np.arange(len(KMER_POS))
    for i in x[1::2]:
        ax.axvspan(i - 0.5, i + 0.5, color=STRIPE, lw=0, zorder=0)
    yt = [0, 2, 4, 6, 8, 10]
    for y in yt[1:]:
        ax.axhline(y, color=grid_col, lw=0.7, zorder=1)
    for vals, name, col in zip(series, names, KMER_COLORS):
        ax.plot(x, vals, color=col, lw=0.9, label=name, zorder=3)
    ax.set_xlim(-0.5, len(x) + 0.3)
    ax.set_ylim(0, 10.85)
    ax.set_yticks(yt)
    leg = ax.legend(loc='upper right', fontsize=4.0, handlelength=0, handletextpad=0,
                    labelcolor='linecolor', frameon=True, fancybox=False, framealpha=1,
                    edgecolor='#dddddd', borderpad=0.35, labelspacing=0.65, borderaxespad=0.15)
    leg.get_frame().set_linewidth(0.5)
    leg.set_zorder(10)
    style_axes(ax, KMER_POS, KMER_TICKS, title, sep)


def quality_panel(ax, lo, q1, med, q3, hi, mean, sep):
    x = np.arange(len(QUAL_POS))
    even = x % 2 == 0
    bands = [(28, 41, '#b2e2b2', '#c6e8c6'), (20, 28, '#e6d8b2', '#e8dfc8'), (0, 20, '#e6b2b2', '#e8c6c6')]
    for low, top, dark, light in bands:
        ax.bar(x, top - low, bottom=low, width=1.0, color=np.where(even, dark, light), lw=0, zorder=0)
    lo, q1, med, q3, hi = map(np.asarray, (lo, q1, med, q3, hi))
    ax.vlines(x, lo, q1, color='#111111', lw=0.7, zorder=2)
    ax.vlines(x, q3, hi, color='#111111', lw=0.7, zorder=2)
    ax.hlines(lo, x - 0.4, x + 0.4, color='#111111', lw=0.7, zorder=2)
    ax.hlines(hi, x - 0.4, x + 0.4, color='#111111', lw=0.7, zorder=2)
    ax.bar(x, q3 - q1, bottom=q1, width=0.8, color='#f0f000', edgecolor='#222222', lw=0.5, zorder=3)
    ax.hlines(med, x - 0.4, x + 0.4, color='#dd0000', lw=0.8, zorder=4)
    ax.plot(x, mean, color='#2030d0', lw=0.8, zorder=5)
    ax.set_xlim(-0.5, len(x) - 0.3)
    ax.set_ylim(0, 41)
    ax.set_yticks(range(0, 41, 2))
    style_axes(ax, QUAL_POS, QUAL_TICKS, 'Quality scores across all bases (Illumina 1.5 encoding)', sep)


def seq_panel(ax, t, c, a, g, sep):
    x = np.arange(len(QUAL_POS))
    for i in x[1::2]:
        ax.axvspan(i - 0.5, i + 0.5, color=STRIPE, lw=0, zorder=0)
    for y in range(10, 101, 10):
        ax.axhline(y, color='#b8b8b8' if 20 <= y <= 50 else '#dadada', lw=0.7, zorder=1)
    hg, = ax.plot(x, g, color='#444444', lw=0.9, zorder=3)
    ht, = ax.plot(x, t, color='#e00000', lw=0.9, zorder=3)
    hc, = ax.plot(x, c, color='#0000e0', lw=0.9, zorder=3)
    ha, = ax.plot(x, a, color='#00cc00', lw=0.9, zorder=3)
    ax.set_xlim(-0.5, len(x) - 0.3)
    ax.set_ylim(0, 100)
    ax.set_yticks(range(0, 101, 10))
    leg = ax.legend([ht, hc, ha, hg], ['%T', '%C', '%A', '%G'], loc='upper right', fontsize=3.5,
                    handlelength=0, handletextpad=0, labelcolor='linecolor', frameon=True,
                    fancybox=False, framealpha=1, edgecolor='#dddddd', borderpad=0.3,
                    labelspacing=0.9, borderaxespad=0.15)
    leg.get_frame().set_linewidth(0.5)
    leg.set_zorder(10)
    style_axes(ax, QUAL_POS, QUAL_TICKS, 'Sequence content across all bases', sep)


fig = plt.figure(figsize=(W / 100, H / 100), dpi=100)

kmer_rows = [
    ([a_red, a_blue, a_green, a_gray, a_magenta, a_yellow], a_names, '#d6d6d6'),
    ([d_red, d_blue, d_green, d_gray, d_magenta, d_yellow], d_names, '#d6d6d6'),
    ([g_red, g_blue, g_green, g_gray, g_magenta, g_yellow], g_names, '#b0b0b0'),
    ([j_red, j_blue, j_green, j_gray, j_magenta, j_yellow], j_names, '#b8b8b8'),
]
qual_rows = [
    (b_lo, b_q1, b_med, b_q3, b_hi, b_mean),
    (e_lo, e_q1, e_med, e_q3, e_hi, e_mean),
    (h_lo, h_q1, h_med, h_q3, h_hi, h_mean),
    (k_lo, k_q1, k_med, k_q3, k_hi, k_mean),
]
seq_rows = [
    (c_t, c_c, c_a, c_g),
    (f_t, f_c, f_a, f_g),
    (i_t, i_c, i_a, i_g),
    (l_t, l_c, l_a, l_g),
]
LETTERS = ['ABC', 'DEF', 'GHI', 'JKL']

for row in range(4):
    # third row has the hyphens of the group labels rendered as gaps
    sep = '  ' if row == 2 else '-'
    series, names, gcol = kmer_rows[row]
    kmer_panel(axes_at(fig, 0, row), series, names,
               'Log2 Obs/Exp', sep, gcol)
    quality_panel(axes_at(fig, 1, row), *qual_rows[row], sep)
    seq_panel(axes_at(fig, 2, row), *seq_rows[row], sep)
    for col in range(3):
        fig.text(LETTER_X[col] / W, 1 - LETTER_Y[row] / H, LETTERS[row][col],
                 fontsize=11, va='center', ha='left', color='#111111')

fig.savefig('out.png', dpi=100)
